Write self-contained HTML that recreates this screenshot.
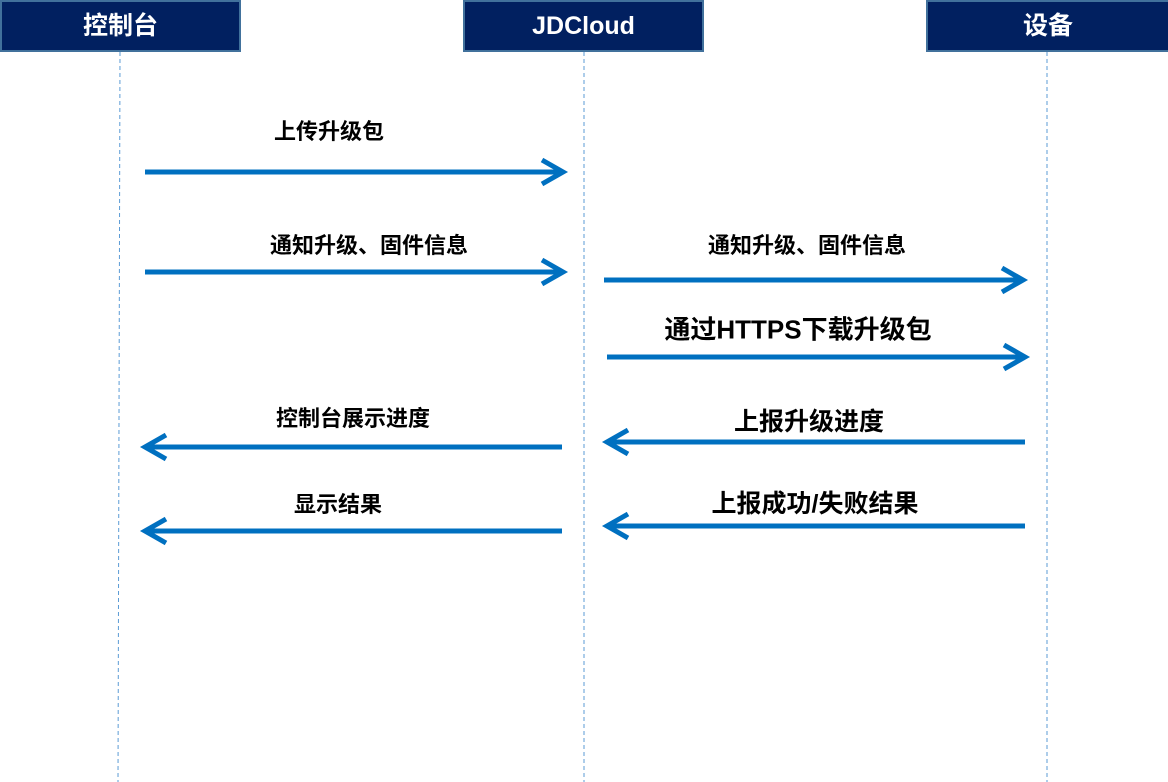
<!DOCTYPE html>
<html><head><meta charset="utf-8"><style>
body{margin:0;width:1168px;height:782px;background:#fff;overflow:hidden;position:relative;font-family:"Liberation Sans","Noto Sans CJK SC",sans-serif;}
.h{position:absolute;top:0;height:48px;background:#012060;border:2px solid #41719c;color:#fff;font-weight:bold;font-size:25px;line-height:48px;text-align:center;box-sizing:content-box}
.t{position:absolute;font-weight:bold;color:#000;white-space:nowrap;transform:translate(-50%,-50%);}
</style></head><body>
<svg width="1168" height="782" style="position:absolute;left:0;top:0">
<g stroke="#5b9bd5" stroke-width="1" stroke-dasharray="4,3">
<line x1="120" y1="52" x2="118" y2="782"/>
<line x1="584" y1="52" x2="584" y2="782"/>
<line x1="1047" y1="52" x2="1047" y2="782"/>
</g>
<g stroke="#0070c0" stroke-width="5" fill="none" stroke-linecap="butt">
<line x1="145" y1="172" x2="562" y2="172"/><polyline points="542,160 563,172 542,184"/>
<line x1="145" y1="272" x2="562" y2="272"/><polyline points="542,260 563,272 542,284"/>
<line x1="604" y1="280" x2="1022" y2="280"/><polyline points="1002,268 1023,280 1002,292"/>
<line x1="607" y1="357" x2="1024" y2="357"/><polyline points="1004,345 1025,357 1004,369"/>
<line x1="1025" y1="442" x2="608" y2="442"/><polyline points="628,430 607,442 628,454"/>
<line x1="562" y1="447" x2="146" y2="447"/><polyline points="166,435 145,447 166,459"/>
<line x1="1025" y1="526" x2="608" y2="526"/><polyline points="628,514 607,526 628,538"/>
<line x1="562" y1="531" x2="146" y2="531"/><polyline points="166,519 145,531 166,543"/>
</g>
</svg>
<div class="h" style="left:0;width:237px">控制台</div>
<div class="h" style="left:463px;width:237px">JDCloud</div>
<div class="h" style="left:926px;width:240px">设备</div>
<div class="t" style="left:329px;top:130px;font-size:22px">上传升级包</div>
<div class="t" style="left:369px;top:244px;font-size:22px">通知升级、固件信息</div>
<div class="t" style="left:807px;top:244px;font-size:22px">通知升级、固件信息</div>
<div class="t" style="left:798px;top:328px;font-size:26px">通过HTTPS下载升级包</div>
<div class="t" style="left:809px;top:420px;font-size:25px">上报升级进度</div>
<div class="t" style="left:353px;top:417px;font-size:22px">控制台展示进度</div>
<div class="t" style="left:815px;top:502px;font-size:25px">上报成功/失败结果</div>
<div class="t" style="left:338px;top:503px;font-size:22px">显示结果</div>
</body></html>
